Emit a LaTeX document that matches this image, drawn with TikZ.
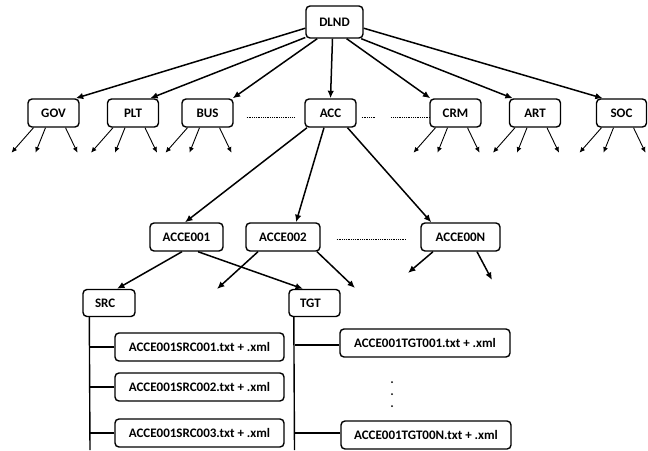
\documentclass[tikz,border=0pt]{standalone}
\usepackage{fontspec}
\setmainfont{Carlito}
\usetikzlibrary{arrows.meta,calc}
\begin{document}
\begin{tikzpicture}[x=1pt,y=-1pt,
  box/.style={draw, line width=1.4pt, rounded corners=4pt, minimum height=28pt,
    inner sep=0pt, font=\fontsize{13}{15}\selectfont\bfseries},
  arr/.style={line width=1.5pt, -{Latex[length=7.5pt,width=6.5pt]}},
  sarr/.style={line width=0.9pt, -{Latex[length=5.5pt,width=5pt]}},
  tree/.style={line width=1.4pt},
  dotline/.style={line width=1pt, dash pattern=on 0.7pt off 1.1pt}]
\fill[white] (0,0) rectangle (648,450);
\useasboundingbox (0,0) rectangle (648,450);

% root
\node[box, minimum width=57pt, minimum height=32pt] (DLND) at (334.5,22) {DLND};

% level 2
\node[box, minimum width=51pt] (GOV) at (53.5,113) {GOV};
\node[box, minimum width=51pt] (PLT) at (133,113) {PLT};
\node[box, minimum width=51pt] (BUS) at (207.5,113) {BUS};
\node[box, minimum width=51pt] (ACC) at (330.5,113) {ACC};
\node[box, minimum width=51pt] (CRM) at (455.5,113) {CRM};
\node[box, minimum width=51pt] (ART) at (535,113) {ART};
\node[box, minimum width=50pt] (SOC) at (621.5,113) {SOC};

% level 3
\node[box, minimum width=73pt] (E1) at (186.5,237) {ACCE001};
\node[box, minimum width=74pt] (E2) at (283,237) {ACCE002};
\node[box, minimum width=79pt] (EN) at (460.5,237) {ACCE00N};

% level 4
\node[box, minimum height=27pt, inner xsep=12pt, text width=28pt, align=left] (SRC) at (109,303) {SRC};
\node[box, minimum height=27pt, inner xsep=11pt, text width=29pt, align=left] (TGT) at (314.5,303) {TGT};

% files
\node[box, minimum width=169pt] (f1) at (199.5,347) {ACCE001SRC001.txt + .xml};
\node[box, minimum width=169pt] (f2) at (199.5,387) {ACCE001SRC002.txt + .xml};
\node[box, minimum width=169pt] (f3) at (199.5,433) {ACCE001SRC003.txt + .xml};
\node[box, minimum width=170pt] (t1) at (425,343) {ACCE001TGT001.txt + .xml};
\node[box, minimum width=170pt] (t2) at (426,435) {ACCE001TGT00N.txt + .xml};

% root arrows
\draw[arr] (DLND.192) -- ($(GOV.north east)+(-4,0)$);
\draw[arr] (DLND.208) -- ($(PLT.north east)+(-9,0)$);
\draw[arr] (DLND.224) -- ($(BUS.north east)+(-1,0)$);
\draw[arr] ($(DLND.south)+(-2,0)$) -- (ACC.north);
\draw[arr] (DLND.306) -- ($(CRM.north west)+(1,0)$);
\draw[arr] (DLND.328) -- ($(ART.north west)+(4,0)$);
\draw[arr] (DLND.348) -- ($(SOC.north west)+(7,0)$);

% small arrows below level-2 nodes
\foreach \n in {GOV,PLT,BUS,CRM,ART,SOC} {
  \coordinate (\n e1) at ($(\n.south)+(-42,25)$);
  \coordinate (\n e2) at ($(\n.south)+(-18,25)$);
  \coordinate (\n e3) at ($(\n.south)+(24,25)$);
  \draw[sarr] ($(\n.south)+(-20,0)$) -- (\n e1);
  \draw[sarr] ($(\n.south)+(-8,0)$) -- (\n e2);
  \draw[sarr] ($(\n.south)+(12,0)$) -- (\n e3);
}

% dotted separators
\draw[dotline] ($(BUS.east)+(13,4)$) -- ($(ACC.west)+(-10,4)$);
\draw[dotline] ($(ACC.east)+(5,4)$) -- ($(ACC.east)+(18,4)$);
\draw[dotline] ($(CRM.west)+(-38,4)$) -- ($(CRM.west)+(0,4)$);
\draw[dotline] ($(E2.east)+(16,2)$) -- ($(EN.west)+(-14,2)$);

% ACC to level 3
\draw[arr] ($(ACC.south)+(-23.5,0)$) -- ($(E1.north)+(-1.5,0)$);
\draw[arr] ($(ACC.south)+(-6.5,0)$) -- ($(E2.north)+(13,0)$);
\draw[arr] ($(ACC.south)+(17,0)$) -- ($(EN.north west)+(11,0)$);

% level 3 to level 4
\draw[arr] ($(E1.south)+(-4.5,0)$) -- ($(SRC.north)+(8,0)$);
\draw[arr] ($(E1.south)+(11.5,0)$) -- ($(TGT.north)+(-11.5,0)$);
\coordinate (a2l) at (217,289);
\coordinate (a2r) at (355,288);
\coordinate (anl) at (408,273);
\coordinate (anr) at (492,280);
\draw[arr] ($(E2.south)+(-25,0)$) -- (a2l);
\draw[arr] ($(E2.south)+(34,0)$) -- (a2r);
\draw[arr] ($(EN.south)+(-27.5,0)$) -- (anl);
\draw[arr] ($(EN.south)+(16.5,0)$) -- (anr);

% SRC tree
\coordinate (sbot) at (90,450);
\draw[tree] ($(SRC.south west)+(7,0)$) -- (sbot);
\draw[tree] (f1.west) -- (f1.west -| sbot);
\draw[tree] (f2.west) -- (f2.west -| sbot);
\draw[tree] (f3.west) -- (f3.west -| sbot);

% TGT tree
\coordinate (tbot) at (294.5,450);
\coordinate (t1b) at ($(t1.west)+(0,2)$);
\coordinate (t2b) at ($(t2.west)+(0,-2)$);
\draw[tree] ($(TGT.south west)+(5.5,0)$) -- (tbot);
\draw[tree] (t1b) -- (t1b -| tbot);
\draw[tree] (t2b) -- (t2b -| tbot);

% vertical dots
\foreach \yy in {382,394,406} \fill (392,\yy) circle (1pt);
\end{tikzpicture}
\end{document}
